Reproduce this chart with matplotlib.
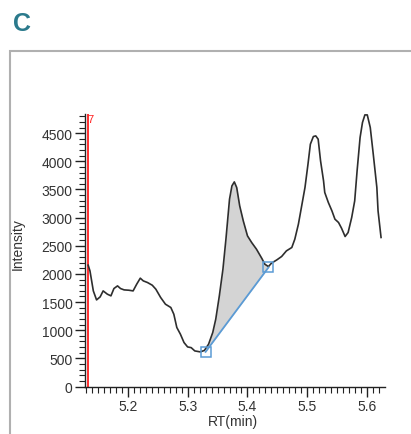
import numpy as np
import matplotlib
matplotlib.use('Agg')
import matplotlib.pyplot as plt
from matplotlib.ticker import MultipleLocator
from matplotlib.patches import Rectangle

plt.rcParams['font.family'] = ['Liberation Sans', 'DejaVu Sans']

# chromatogram trace
rt = [5.134, 5.137, 5.1426, 5.148, 5.154, 5.159, 5.166, 5.172, 5.177, 5.183,
      5.188, 5.194, 5.202, 5.209, 5.215, 5.221, 5.226, 5.233, 5.241, 5.247,
      5.255, 5.263, 5.272, 5.277, 5.282, 5.288, 5.294, 5.300, 5.306, 5.312,
      5.321, 5.328, 5.335, 5.342, 5.347, 5.353, 5.359, 5.364, 5.370, 5.374,
      5.378, 5.382, 5.387, 5.393, 5.400, 5.407, 5.415, 5.424, 5.429, 5.435,
      5.440, 5.449, 5.457, 5.465, 5.474, 5.479, 5.485, 5.490, 5.496, 5.501,
      5.505, 5.510, 5.514, 5.518, 5.522, 5.527, 5.529, 5.535, 5.541, 5.546,
      5.552, 5.557, 5.563, 5.568, 5.574, 5.579, 5.583, 5.588, 5.592, 5.596,
      5.600, 5.605, 5.610, 5.616, 5.618, 5.623]
intensity = [2155, 2053, 1698, 1538, 1592, 1698, 1640, 1610, 1740, 1787,
             1740, 1716, 1710, 1698, 1817, 1924, 1876, 1847, 1799, 1728,
             1581, 1462, 1403, 1284, 1048, 929, 781, 703, 690, 632,
             615, 640, 751, 959, 1195, 1610, 2083, 2616, 3327, 3563,
             3634, 3534, 3208, 2941, 2675, 2557, 2439, 2274, 2172, 2130,
             2190, 2249, 2309, 2409, 2469, 2616, 2883, 3179, 3535, 3948,
             4304, 4440, 4451, 4393, 4007, 3652, 3446, 3268, 3119, 2972,
             2913, 2812, 2664, 2735, 3002, 3297, 3829, 4423, 4689, 4824,
             4824, 4600, 4126, 3535, 3119, 2647]

# integration baseline (start, end)
base_rt = [5.330, 5.435]
base_int = [615, 2114]
marker_rt = 5.1335

fig = plt.figure(figsize=(4.11, 4.35), dpi=100)

# panel frame
fig.patches.append(Rectangle((10/411, -0.1), 1.2, 1 - 52/435 + 0.1, transform=fig.transFigure,
                             fill=False, edgecolor='#b0b0b0', linewidth=1.5))
fig.text(13/411, 1 - 24/435, 'C', color='#2b7a8c', fontsize=18, fontweight='bold',
         va='center', ha='left')

ax = fig.add_axes([85/411, 1 - 387.5/435, 300/411, 272.5/435])

x = np.array(rt)
y = np.array(intensity)
# shaded peak area between trace and baseline
m = (x >= base_rt[0]) & (x <= base_rt[1])
xs = np.concatenate([[base_rt[0]], x[m], [base_rt[1]]])
ys = np.concatenate([[base_int[0]], y[m], [base_int[1]]])
bl = np.interp(xs, base_rt, base_int)
ax.fill_between(xs, bl, ys, color='#d4d4d4', linewidth=0, zorder=1)

ax.plot(x, y, color='#2e2e2e', linewidth=1.2, zorder=3)
ax.plot(base_rt, base_int, color='#5b9bd5', linewidth=1.3, zorder=4)
ax.plot(base_rt, base_int, linestyle='none', marker='s', markersize=7,
        markerfacecolor='none', markeredgecolor='#5b9bd5', markeredgewidth=1.1, zorder=5)

ax.axvline(marker_rt, color='#ff2020', linewidth=1.3, zorder=2)
ax.text(marker_rt, 4840, '7', color='#ff2020', fontsize=8, ha='left', va='top')

ax.set_xlim(5.1287, 5.6296)
ax.set_ylim(0, 4840)
ax.xaxis.set_major_locator(MultipleLocator(0.1))
ax.xaxis.set_minor_locator(MultipleLocator(0.01))
ax.yaxis.set_major_locator(MultipleLocator(500))
ax.yaxis.set_minor_locator(MultipleLocator(100))
ax.xaxis.set_major_formatter(plt.FuncFormatter(lambda v, p: '%.1f' % v))

for s in ['top', 'right']:
    ax.spines[s].set_visible(False)
for s in ['left', 'bottom']:
    ax.spines[s].set_color('#222222')
    ax.spines[s].set_linewidth(1.0)

ax.tick_params(which='major', length=7, width=1, color='#222222', labelsize=10, labelcolor='#333333', pad=2)
ax.tick_params(which='minor', length=4, width=0.8, color='#222222')

ax.set_xlabel('RT(min)', fontsize=10, color='#333333')
ax.set_ylabel('Intensity', fontsize=10, color='#333333')
ax.xaxis.set_label_coords(0.493, -0.102)
ax.yaxis.set_label_coords(-0.2, 0.527)

fig.savefig('out.png', dpi=100)
